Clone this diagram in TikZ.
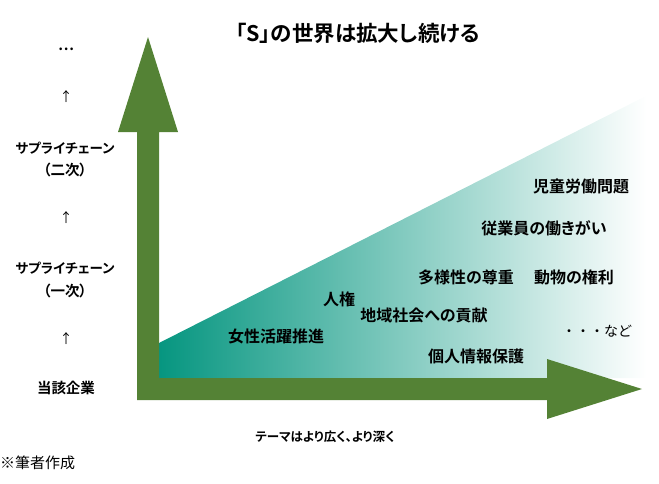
\documentclass[tikz,border=0pt]{standalone}
\usepackage{fontspec}
\setmainfont{Noto Sans CJK JP}[BoldFont={Noto Sans CJK JP Bold},RawFeature=+palt]
\newfontfamily\jpfull{Noto Sans CJK JP}
\definecolor{arrowgreen}{RGB}{84,130,53}
\definecolor{wedgeteal}{RGB}{6,150,128}
\tikzset{
  lbl/.style={font=\fontsize{16}{19}\selectfont\bfseries, inner sep=0pt, anchor=center},
  side/.style={font=\fontsize{14.5}{17}\selectfont\bfseries, inner sep=0pt, anchor=center},
  sidekana/.style={font=\fontsize{13.5}{16}\selectfont\bfseries, inner sep=0pt, anchor=center},
  uparr/.style={font=\fontsize{13}{15}\selectfont, inner sep=0pt, anchor=center},
}
\begin{document}
\begin{tikzpicture}[x=1pt,y=-1pt]
\useasboundingbox (0,0) rectangle (659,483);
% gradient wedge
\shade[left color=wedgeteal, right color=white]
  (159,378) -- (159,343) -- (646,96) -- (646,378) -- cycle;
% L-shaped double arrow
\fill[arrowgreen] (137,400) -- (137,132) -- (118,132) -- (148,37) -- (178,132) -- (159,132)
  -- (159,378) -- (547,378) -- (547,359) -- (642,389) -- (547,419) -- (547,400) -- cycle;
% title
\node[font=\fontsize{21.5}{25}\selectfont\bfseries, inner sep=0pt] (title) at (358,33) {「S」の世界は拡大し続ける};
% left column
\node[side] (dots) at (66,49) {…};
\node[uparr] (u1) at (66,97) {↑};
\node[sidekana] (sc2a) at (65,148) {サプライチェーン};
\node[side] (sc2b) at (65,170) {（二次）};
\node[uparr] (u2) at (66,218) {↑};
\node[sidekana] (sc1a) at (65,268) {サプライチェーン};
\node[side] (sc1b) at (65,291) {（一次）};
\node[uparr] (u3) at (66,339) {↑};
\node[side] (firm) at (66,388) {当該企業};
% wedge labels
\node[lbl] (w1) at (276,336) {女性活躍推進};
\node[lbl] (w2) at (339,299) {人権};
\node[lbl] (w3) at (424,315) {地域社会への貢献};
\node[lbl] (w4) at (466,277) {多様性の尊重};
\node[lbl] (w5) at (574,277) {動物の権利};
\node[lbl] (w6) at (476,356) {個人情報保護};
\node[lbl] (w7) at (544,228) {従業員の働きがい};
\node[lbl] (w8) at (581,186) {児童労働問題};
\node[font=\fontsize{14}{17}\selectfont\jpfull, inner sep=0pt] (etc) at (597,331) {・・・など};
% axis caption
\node[font=\fontsize{12.5}{15}\selectfont\bfseries, inner sep=0pt] (xcap) at (325,437) {テーマはより広く、より深く};
% source
\node[font=\fontsize{15}{17}\selectfont, inner sep=0pt, anchor=west] (src) at (0,463) {※筆者作成};
\end{tikzpicture}
\end{document}
